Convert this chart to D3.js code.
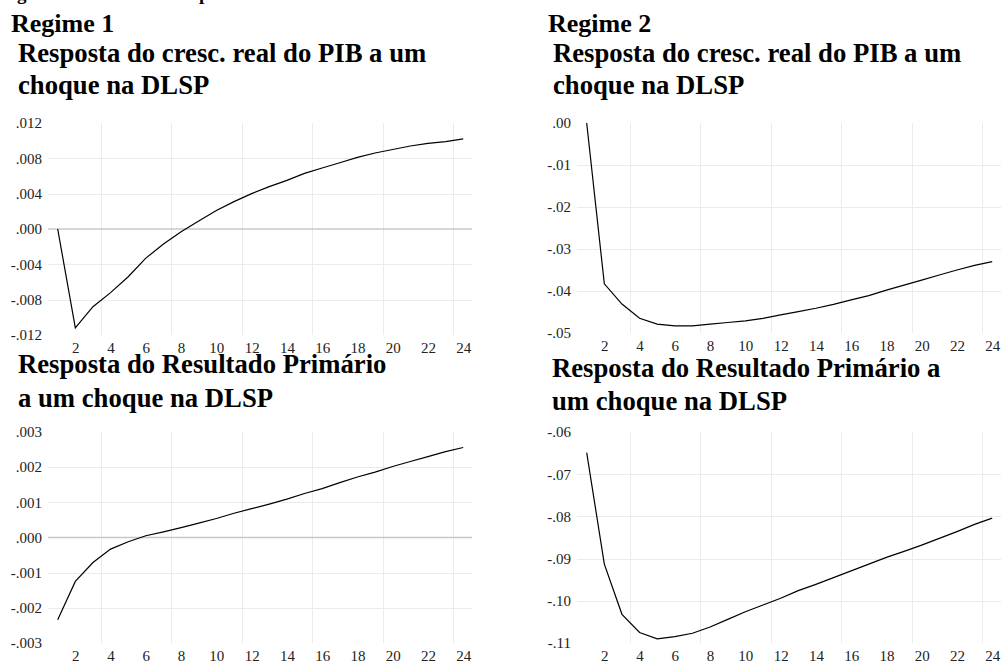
<!DOCTYPE html>
<meta charset="utf-8">
<style>
  body { margin: 0; background: #fff; }
  svg text { font-family: "Liberation Serif", "Times New Roman", serif; }
  .title { font-weight: bold; font-size: 26.7px; fill: #000; }
  .axis text { font-size: 15px; fill: #222; }
  .axis path.domain { display: none; }
  .grid line { stroke: #ebebeb; stroke-width: 1; shape-rendering: crispEdges; }
  line.zero { stroke: #c8c8c8; stroke-width: 1.5; }
  path.irf { fill: none; stroke: #000; stroke-width: 1.2; }
</style>
<body>
<script src="https://cdn.jsdelivr.net/npm/d3@7"></script>
<script>

  // periodos da resposta ao impulso
  var periods = [1, 2, 3, 4, 5, 6, 7, 8, 9, 10, 11, 12, 13, 14, 15, 16, 17, 18, 19, 20, 21, 22, 23, 24];

  // crescimento real do PIB
  var pibRegime1 = [0.0000, -0.0112, -0.0088, -0.0072, -0.0054, -0.0033, -0.0017, -0.0003,
                    0.0009, 0.0021, 0.0031, 0.0040, 0.0048, 0.0055, 0.0063, 0.0069,
                    0.0075, 0.0081, 0.0086, 0.0090, 0.0094, 0.0097, 0.0099, 0.0102];
  var pibRegime2 = [0.0000, -0.0383, -0.0431, -0.0465, -0.0479, -0.0483, -0.0483, -0.0479,
                    -0.0475, -0.0471, -0.0465, -0.0457, -0.0449, -0.0441, -0.0432, -0.0421,
                    -0.0411, -0.0398, -0.0386, -0.0374, -0.0362, -0.0350, -0.0339, -0.0330];

  // resultado primario
  var primRegime1 = [-0.00234, -0.00125, -0.00071, -0.00033, -0.00012, 0.00005, 0.00016, 0.00028,
                     0.00041, 0.00054, 0.00069, 0.00082, 0.00095, 0.00109, 0.00125, 0.00139,
                     0.00156, 0.00172, 0.00186, 0.00202, 0.00216, 0.00230, 0.00244, 0.00256];
  var primRegime2 = [-0.0649, -0.0913, -0.1032, -0.1075, -0.1090, -0.1085, -0.1077, -0.1062,
                     -0.1044, -0.1026, -0.1010, -0.0994, -0.0976, -0.0961, -0.0945, -0.0929,
                     -0.0913, -0.0897, -0.0883, -0.0868, -0.0852, -0.0836, -0.0819, -0.0804];

  var xTickLabels = [2, 4, 6, 8, 10, 12, 14, 16, 18, 20, 22, 24];
  var xGridAt = [3.45, 7.45, 11.45, 15.45, 19.45, 23.45];

  var yTicksPib1 = [-0.012, -0.008, -0.004, 0, 0.004, 0.008, 0.012];
  var yTicksPib2 = [-0.05, -0.04, -0.03, -0.02, -0.01, 0];
  var yTicksPrim1 = [-0.003, -0.002, -0.001, 0, 0.001, 0.002, 0.003];
  var yTicksPrim2 = [-0.11, -0.10, -0.09, -0.08, -0.07, -0.06];

  var plotWidth = 424;

  var panels = [
    {left: 48, top: 123, bottom: 335, values: pibRegime1, ticks: yTicksPib1, digits: 3,
     title: ["Resposta do cresc. real do PIB a um", "choque na DLSP"], tx: 18, ty: [62, 94]},
    {left: 577, top: 123, bottom: 333, values: pibRegime2, ticks: yTicksPib2, digits: 2,
     title: ["Resposta do cresc. real do PIB a um", "choque na DLSP"], tx: 553, ty: [62, 94]},
    {left: 48, top: 432, bottom: 643, values: primRegime1, ticks: yTicksPrim1, digits: 3,
     title: ["Resposta do Resultado Primário", "a um choque na DLSP"], tx: 18, ty: [373, 407]},
    {left: 577, top: 432, bottom: 643, values: primRegime2, ticks: yTicksPrim2, digits: 2,
     title: ["Resposta do Resultado Primário a", "um choque na DLSP"], tx: 552, ty: [377, 410]}
  ];

  var svg = d3.select("body").append("svg")
      .attr("width", 1003)
      .attr("height", 662);

  // legenda da figura cortada no topo
  svg.append("text").attr("class", "title")
      .attr("x", 0).attr("y", 0)
      .style("font-size", "19px")
      .text("Figura 4 – Resultado do período");

  svg.append("text").attr("class", "title").attr("x", 11).attr("y", 32)
      .style("font-size", "26px").text("Regime 1");
  svg.append("text").attr("class", "title").attr("x", 548).attr("y", 32)
      .style("font-size", "26px").text("Regime 2");

  panels.forEach(function(p) {
    var x = d3.scaleLinear().domain([0.45, 24.5]).range([p.left, p.left + plotWidth]);
    var y = d3.scaleLinear().domain(d3.extent(p.ticks)).range([p.bottom, p.top]);
    var fmt = function(v) { return v.toFixed(p.digits).replace(/^(-?)0\./, "$1."); };

    p.title.forEach(function(t, i) {
      svg.append("text").attr("class", "title")
          .attr("x", p.tx).attr("y", p.ty[i]).text(t);
    });

    var grid = svg.append("g").attr("class", "grid");
    grid.selectAll("line.v").data(xGridAt).enter().append("line")
        .attr("class", "v")
        .attr("x1", function(d) { return Math.round(x(d)) + 0.5; })
        .attr("x2", function(d) { return Math.round(x(d)) + 0.5; })
        .attr("y1", y.range()[1]).attr("y2", y.range()[0]);

    var inner = p.ticks.slice(1, -1).filter(function(d) { return d !== 0; });
    grid.selectAll("line.h").data(inner).enter().append("line")
        .attr("class", "h")
        .attr("x1", x.range()[0]).attr("x2", x.range()[1])
        .attr("y1", function(d) { return Math.round(y(d)) + 0.5; })
        .attr("y2", function(d) { return Math.round(y(d)) + 0.5; });

    var dom = y.domain();
    if (dom[0] < 0 && dom[1] > 0) {
      svg.append("line").attr("class", "zero")
          .attr("x1", x.range()[0]).attr("x2", x.range()[1])
          .attr("y1", y(0)).attr("y2", y(0));
    }

    svg.append("g").attr("class", "axis")
        .attr("transform", "translate(" + p.left + ",0)")
        .call(d3.axisLeft(y).tickValues(p.ticks).tickSize(0).tickPadding(6).tickFormat(fmt));

    svg.append("g").attr("class", "axis")
        .attr("transform", "translate(0," + p.bottom + ")")
        .call(d3.axisBottom(x).tickValues(xTickLabels).tickSize(0).tickPadding(7)
            .tickFormat(d3.format("d")));

    var line = d3.line()
        .x(function(d, i) { return x(periods[i]); })
        .y(function(d) { return y(d); });

    svg.append("path").attr("class", "irf")
        .datum(p.values)
        .attr("d", line);
  });

</script>
